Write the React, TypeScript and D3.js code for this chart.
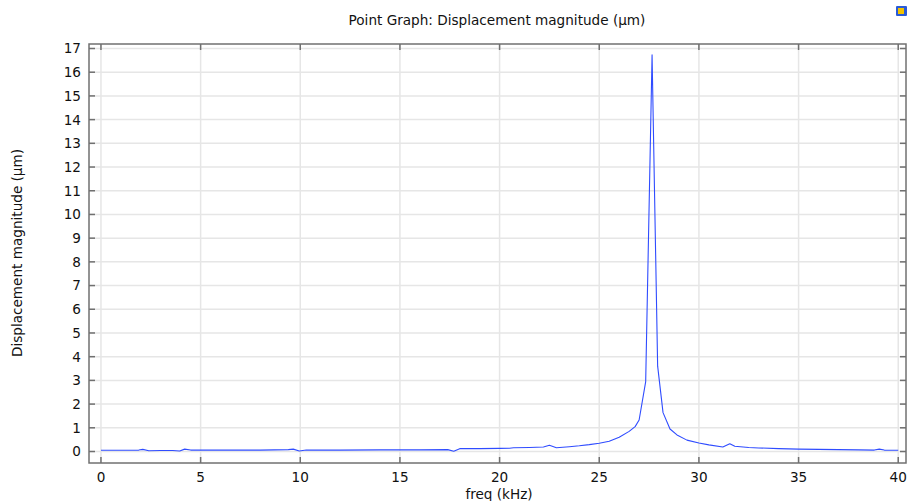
import React from "react";
import * as d3 from "d3";

const freq = [0, 1, 1.9, 2.1, 2.4, 3, 3.6, 3.95, 4.2, 4.5, 6, 8, 9.4, 9.65, 9.95, 10.3, 12, 14, 16, 17.4, 17.7, 18.0, 19, 20, 20.5, 20.7, 21.5, 22.2, 22.5, 22.85, 23.5, 24, 24.5, 25, 25.5, 26.0, 26.5, 26.8, 27.0, 27.33, 27.65, 27.93, 28.2, 28.55, 28.9, 29.4, 30.0, 30.5, 31.2, 31.55, 31.8, 32.5, 33, 34, 35, 36, 37, 38, 38.8, 39.05, 39.3, 40];
const disp = [0.05, 0.05, 0.06, 0.09, 0.03, 0.04, 0.04, 0.02, 0.1, 0.06, 0.06, 0.06, 0.08, 0.1, 0.02, 0.06, 0.06, 0.07, 0.07, 0.08, 0.01, 0.12, 0.12, 0.13, 0.14, 0.16, 0.17, 0.19, 0.26, 0.16, 0.2, 0.24, 0.29, 0.35, 0.43, 0.6, 0.85, 1.05, 1.33, 2.95, 16.73, 3.6, 1.64, 0.95, 0.7, 0.48, 0.36, 0.28, 0.19, 0.33, 0.22, 0.17, 0.15, 0.12, 0.1, 0.09, 0.08, 0.07, 0.06, 0.1, 0.06, 0.05];
const xTicks = [0, 5, 10, 15, 20, 25, 30, 35, 40];
const yTicks = d3.range(0, 18);

const title = "Point Graph: Displacement magnitude (µm)";
const xLabel = "freq (kHz)";
const yLabel = "Displacement magnitude (µm)";

export default function App() {
  const left = 89, right = 906, top = 44, bottom = 463;
  const x = d3.scaleLinear().domain([-0.6, 40.39]).range([left, right]);
  const y = d3.scaleLinear().domain([-0.485, 17.19]).range([bottom, top]);
  const pts = freq.map((f, i) => [f, disp[i]] as [number, number]);
  const line = d3.line<[number, number]>().x(d => x(d[0])).y(d => y(d[1]));
  const font = "'DejaVu Sans', sans-serif";
  const axisColor = "#707070";
  const gridColor = "#e6e6e6";
  const fs = 13.6;
  return (
    <svg width={907} height={501} style={{ position: "fixed", left: 0, top: 0 }} fontFamily={font}>
      <rect x={0} y={0} width={907} height={501} fill="#fff" />
      {xTicks.map(t => (
        <line key={"gx" + t} x1={x(t)} x2={x(t)} y1={top} y2={bottom} stroke={gridColor} strokeWidth={1.5} />
      ))}
      {yTicks.map(t => (
        <line key={"gy" + t} x1={left} x2={right} y1={y(t)} y2={y(t)} stroke={gridColor} strokeWidth={1.5} />
      ))}
      <path d={line(pts) || ""} fill="none" stroke="#2f4cff" strokeWidth={1.1} strokeLinejoin="round" />
      <rect x={left} y={top} width={right - left} height={bottom - top} fill="none" stroke={axisColor} strokeWidth={1.5} />
      {xTicks.map(t => (
        <g key={"tx" + t}>
          <line x1={x(t)} x2={x(t)} y1={bottom} y2={bottom - 6} stroke={axisColor} strokeWidth={1.5} />
          <line x1={x(t)} x2={x(t)} y1={top} y2={top + 6} stroke={axisColor} strokeWidth={1.5} />
          <text x={x(t)} y={482} textAnchor="middle" fontSize={fs} fill="#111">{t}</text>
        </g>
      ))}
      {yTicks.map(t => (
        <g key={"ty" + t}>
          <line x1={left} x2={left + 6} y1={y(t)} y2={y(t)} stroke={axisColor} strokeWidth={1.5} />
          <line x1={right} x2={right - 6} y1={y(t)} y2={y(t)} stroke={axisColor} strokeWidth={1.5} />
          <text x={81} y={y(t)} dy="0.36em" textAnchor="end" fontSize={fs} fill="#111">{t}</text>
        </g>
      ))}
      <text x={497} y={25} textAnchor="middle" fontSize={fs} fill="#111">{title}</text>
      <text x={499} y={498.5} textAnchor="middle" fontSize={fs} fill="#111">{xLabel}</text>
      <text transform={`translate(22,${253}) rotate(-90)`} textAnchor="middle" fontSize={fs} fill="#111">{yLabel}</text>
      <g>
        <rect x={896} y={6} width={11} height={10} fill="#2a5bd7" rx={1} />
        <rect x={898} y={8} width={6} height={6} fill="#f2c200" />
      </g>
    </svg>
  );
}
